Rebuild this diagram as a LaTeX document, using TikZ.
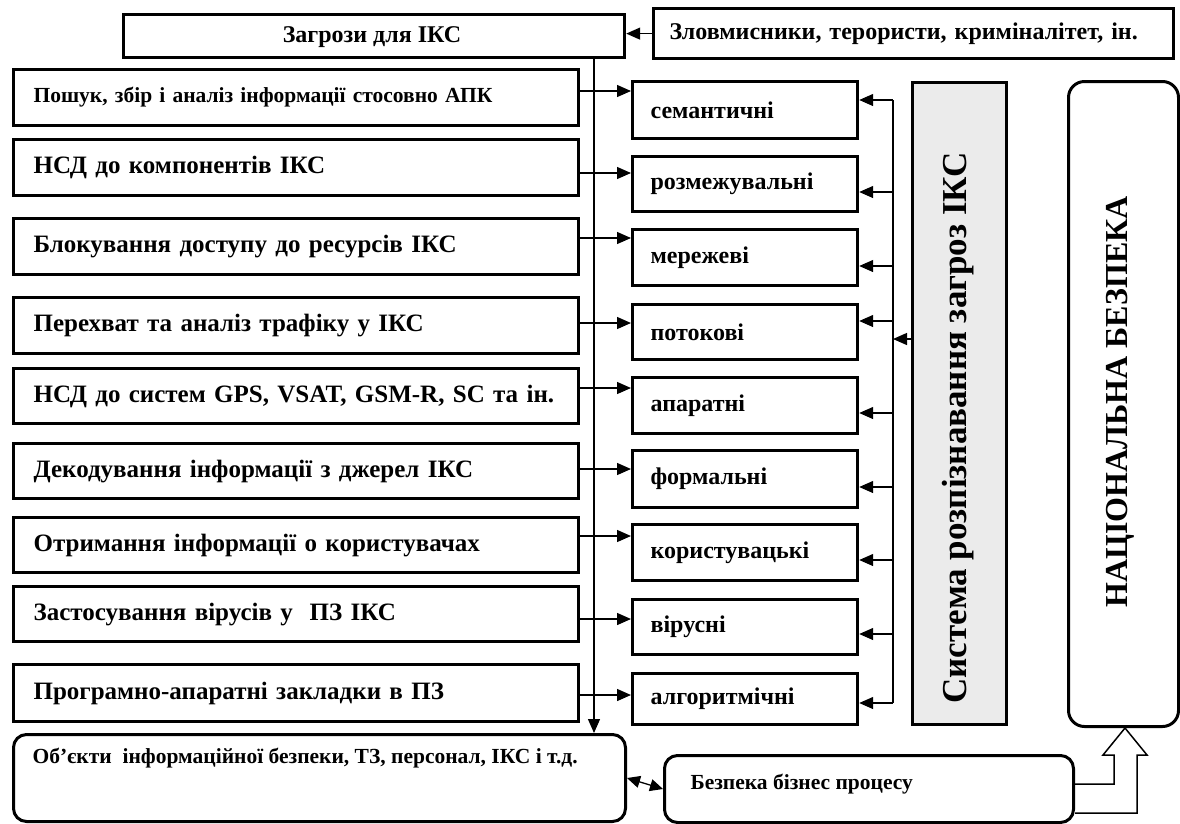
\documentclass[tikz,border=0pt]{standalone}
\usepackage{fontspec}
\setmainfont{Liberation Serif}
\usetikzlibrary{arrows.meta,calc}
\definecolor{greyfill}{HTML}{EBEBEB}
\begin{document}
\begin{tikzpicture}[x=1pt,y=-1pt,font=\bfseries,
  box/.style={draw, line width=3.2pt, anchor=north west, inner sep=0pt},
  lbox/.style={box, minimum width=565pt, text width=525pt, inner xsep=20pt, align=left, font=\bfseries\fontsize{25}{28}\selectfont},
  mbox/.style={box, minimum width=225pt, text width=189pt, inner xsep=18pt, align=left, font=\bfseries\fontsize{24}{27}\selectfont},
  rbox/.style={draw, line width=3pt, rounded corners=13pt, anchor=north west, inner sep=0pt},
  conn/.style={line width=1.3pt},
  tip/.style={-{Triangle[length=14pt,width=12pt]}},
  dtip/.style={{Triangle[length=13pt,width=12pt]}-{Triangle[length=13pt,width=12pt]}}]
\useasboundingbox (0,0) rectangle (1180,823);

% top boxes
\node[box, minimum width=501pt, minimum height=43pt] (zag) at (122,13) {};
\node[font=\bfseries\fontsize{24}{27}\selectfont] (zagt) at (372,37) {Загрози для ІКС};
\node[box, minimum width=520pt, minimum height=50pt, text width=488pt, inner xsep=16pt, align=left,
      font=\bfseries\fontsize{24}{27}\selectfont] (zl) at (652,7) {Зловмисники, терористи, криміналітет, ін.};

% left boxes
\node[lbox, minimum height=56pt, font=\bfseries\fontsize{21.5}{24}\selectfont] (l1) at (12,68) {Пошук, збір і аналіз інформації стосовно АПК};
\node[lbox, minimum height=56pt] (l2) at (12,138) {НСД до компонентів ІКС};
\node[lbox, minimum height=56pt] (l3) at (12,217) {Блокування доступу до ресурсів ІКС};
\node[lbox, minimum height=56pt] (l4) at (12,296) {Перехват та аналіз трафіку у ІКС};
\node[lbox, minimum height=55pt] (l5) at (12,367) {НСД до систем GPS, VSAT, GSM-R, SC та ін.};
\node[lbox, minimum height=55pt] (l6) at (12,442) {Декодування інформації з джерел ІКС};
\node[lbox, minimum height=55pt] (l7) at (12,516) {Отримання інформації о користувачах};
\node[lbox, minimum height=55pt] (l8) at (12,585) {Застосування вірусів у\ \ ПЗ ІКС};
\node[lbox, minimum height=57pt] (l9) at (12,663) {Програмно-апаратні закладки в ПЗ};

% middle boxes
\node[mbox, minimum height=57pt] (m1) at (631,80) {семантичні};
\node[mbox, minimum height=55pt] (m2) at (631,155) {розмежувальні};
\node[mbox, minimum height=56pt] (m3) at (631,228) {мережеві};
\node[mbox, minimum height=55pt] (m4) at (631,303) {потокові};
\node[mbox, minimum height=56pt] (m5) at (631,376) {апаратні};
\node[mbox, minimum height=57pt] (m6) at (631,449) {формальні};
\node[mbox, minimum height=56pt] (m7) at (631,523) {користувацькі};
\node[mbox, minimum height=55pt] (m8) at (631,598) {вірусні};
\node[mbox, minimum height=51pt] (m9) at (631,672) {алгоритмічні};

% grey system box
\node[box, fill=greyfill, minimum width=94pt, minimum height=642pt] (sys) at (911,81) {};
\node[rotate=90, font=\bfseries\fontsize{35}{40}\selectfont] (syst) at (958,428) {Система розпізнавання загроз ІКС};

% national security
\node[rbox, minimum width=110pt, minimum height=645pt, rounded corners=16pt] (nb) at (1067,80) {};
\node[rotate=90, font=\bfseries\fontsize{32}{36}\selectfont] (nbt) at (1120,402) {НАЦІОНАЛЬНА БЕЗПЕКА};

% bottom boxes
\node[rbox, minimum width=612pt, minimum height=87pt] (obj) at (12,733) {};
\node[anchor=west, font=\bfseries\fontsize{21.5}{24}\selectfont] (objt) at (29,758) {Об’єкти\ \ інформаційної безпеки, ТЗ, персонал, ІКС і т.д.};
\node[rbox, minimum width=409pt, minimum height=67pt] (bez) at (663,754) {};
\node[anchor=west, font=\bfseries\fontsize{21.5}{24}\selectfont] (bezt) at (687,784) {Безпека бізнес процесу};

% connectors
\coordinate (vx) at (594,0);
\coordinate (rx) at (893,0);
\draw[conn,tip] (zl.west) -- (zag.east |- zl.west);
\draw[conn,tip] (zag.south -| vx) -- (obj.north -| vx);

\foreach \i/\ya/\yb in {1/91/100,2/173/192,3/238/266,4/323/321,5/388/413,6/469/487,7/536/560,8/619/634,9/695/703}{
  \draw[conn,tip] (l\i.east |- 0,\ya) -- (m\i.west |- 0,\ya);
  \draw[conn,tip] (rx |- 0,\yb) -- (m\i.east |- 0,\yb);
}
\draw[conn] (rx |- 0,100) -- (rx |- 0,703);
\draw[conn,tip] (sys.west |- 0,339) -- (rx |- 0,339);
\draw[conn,dtip] (obj.east) -- (bez.west);

% hollow block arrow
\draw[line width=1.5pt, line join=miter]
  (bez.east |- 0,784) -- (1114,784) -- (1114,755) -- (1103,755) -- (nb.south -| 1125,0)
  -- (1147,755) -- (1137,755) -- (1137,813) -- (bez.east |- 0,813);
\end{tikzpicture}
\end{document}
